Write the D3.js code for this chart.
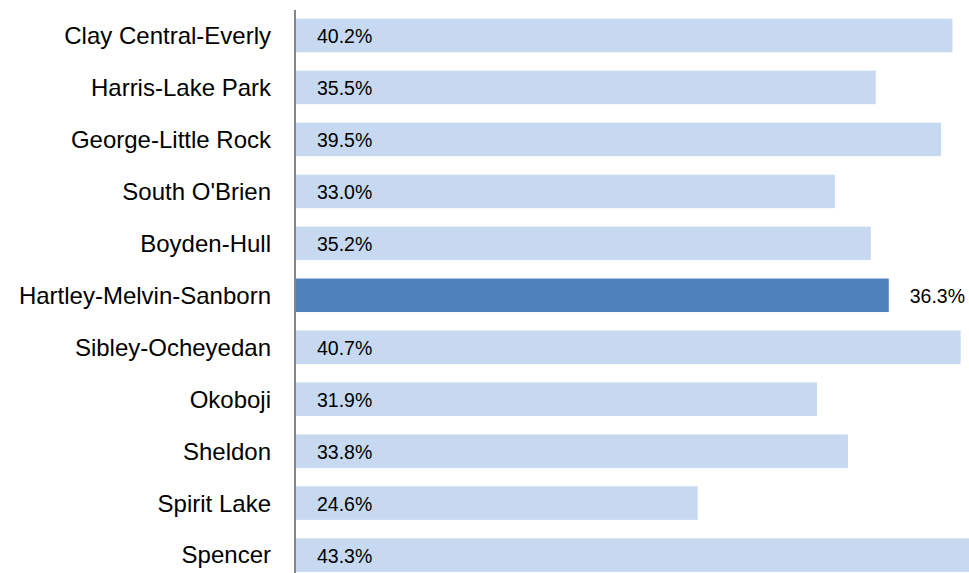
<!DOCTYPE html>
<html>
<head>
<meta charset="utf-8">
<script src="https://cdn.jsdelivr.net/npm/d3@7"></script>
<style>
	body { margin: 0; background: #fff; }
	svg { display: block; }
</style>
</head>
<body>
<div id="chart"></div>
<script>
// data
var districts = ["Clay Central-Everly", "Harris-Lake Park", "George-Little Rock", "South O'Brien",
	"Boyden-Hull", "Hartley-Melvin-Sanborn", "Sibley-Ocheyedan", "Okoboji", "Sheldon", "Spirit Lake", "Spencer"];
var values = [40.2, 35.5, 39.5, 33.0, 35.2, 36.3, 40.7, 31.9, 33.8, 24.6, 43.3];
var highlight = "Hartley-Melvin-Sanborn";

// chart dimensions
var width = 969;
var height = 573;
var axisX = 296;

var data = districts.map(function(d, i) { return { name: d, value: values[i] }; });

var svg = d3.select("#chart")
  .append("svg")
	.attr("width", width)
	.attr("height", height);

// scales
var x = d3.scaleLinear()
	.domain([0, 45])
	.range([axisX, axisX + 45 * 16.33]);

var y = d3.scaleBand()
	.domain(districts)
	.range([9.5, 9.5 + 11 * 51.96])
	.paddingInner(0.355)
	.paddingOuter(0.1775);

// bars
svg.selectAll(".bar")
	.data(data)
  .enter().append("rect")
	.attr("class", "bar")
	.attr("x", x(0))
	.attr("y", function(d) { return y(d.name); })
	.attr("width", function(d) { return x(d.value) - x(0); })
	.attr("height", y.bandwidth())
	.style("fill", function(d) { return d.name === highlight ? "#4F81BD" : "#C6D9F1"; });

// vertical axis line
svg.append("line")
	.attr("x1", axisX - 1)
	.attr("x2", axisX - 1)
	.attr("y1", 10)
	.attr("y2", y.range()[1])
	.style("stroke", "#868686")
	.style("stroke-width", 2);

// category labels
svg.selectAll(".cat")
	.data(data)
  .enter().append("text")
	.attr("class", "cat")
	.attr("x", 271)
	.attr("y", function(d) { return y(d.name) + y.bandwidth() / 2; })
	.attr("dy", "0.35em")
	.attr("text-anchor", "end")
	.style("font-family", "'Liberation Sans', Arial, sans-serif")
	.style("font-size", "24px")
	.style("fill", "#000")
	.text(function(d) { return d.name; });

// value labels
svg.selectAll(".val")
	.data(data)
  .enter().append("text")
	.attr("class", "val")
	.attr("x", function(d) { return d.name === highlight ? x(d.value) + 21 : x(0) + 21; })
	.attr("y", function(d) { return y(d.name) + y.bandwidth() / 2; })
	.attr("dy", "0.4em")
	.style("font-family", "'Liberation Sans', Arial, sans-serif")
	.style("font-size", "19.5px")
	.style("fill", "#000")
	.text(function(d) { return d.value.toFixed(1) + "%"; });
</script>
</body>
</html>
